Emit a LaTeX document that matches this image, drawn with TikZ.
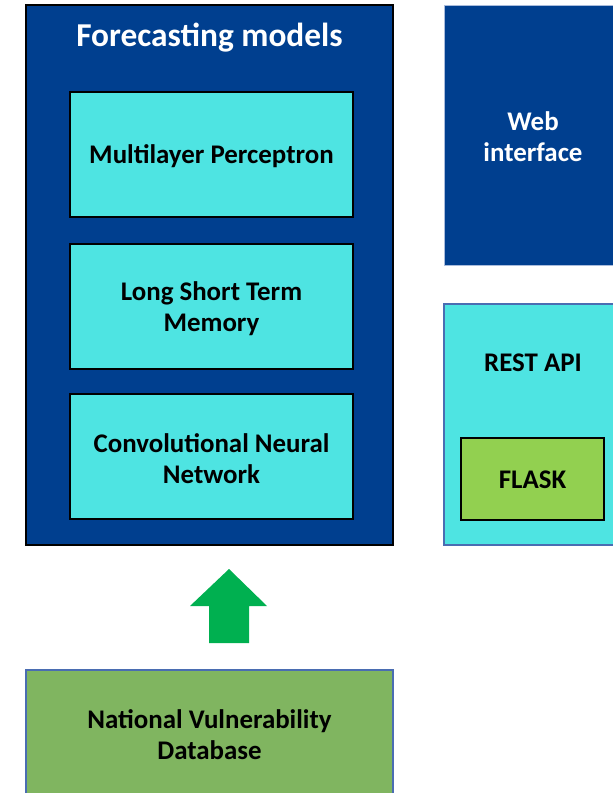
\documentclass[tikz,border=0pt]{standalone}
\usepackage{fontspec}
\setmainfont{Carlito}
\definecolor{navy}{HTML}{003F8F}
\definecolor{aqua}{HTML}{4EE4E2}
\definecolor{leaf}{HTML}{92D050}
\definecolor{moss}{HTML}{80B560}
\definecolor{edgeblue}{HTML}{4A6DB2}
\definecolor{paleedge}{HTML}{A9BCDC}
\definecolor{arrowgreen}{HTML}{00B050}
\tikzset{
  panel/.style={rectangle, anchor=north west, inner sep=0pt, outer sep=0pt},
  modelbox/.style={panel, fill=aqua, draw=black, line width=1.6pt,
    minimum width=283bp, minimum height=125bp},
  label/.style={inner sep=0pt, align=center, font=\bfseries\fontsize{27}{31}\selectfont},
}
\begin{document}
\begin{tikzpicture}[x=1bp,y=-1bp]
\useasboundingbox (0,0) rectangle (613,793);
% forecasting models container
\node[panel, fill=navy, draw=black, line width=2pt,
  minimum width=367bp, minimum height=540bp] (fm) at (26,5) {};
\node[label, text=white, font=\bfseries\fontsize{33.5}{38}\selectfont] (fmt) at (209.5,38) {Forecasting models};
\node[modelbox] (mlp) at (70,92) {};
\node[label] (mlpt) at (211.5,156) {Multilayer Perceptron};
\node[modelbox] (lstm) at (70,244) {};
\node[label] (lstmt) at (211.5,309) {Long Short Term\\Memory};
\node[modelbox] (cnn) at (70,394) {};
\node[label] (cnnt) at (211.5,459) {Convolutional Neural\\Network};
% web interface
\node[panel, fill=navy, draw=paleedge, line width=1pt,
  minimum width=180bp, minimum height=260bp] (web) at (444,5) {};
\node[label, text=white] (webt) at (533,137) {Web\\interface};
% REST API with Flask
\node[panel, fill=aqua, draw=edgeblue, line width=1.5pt,
  minimum width=180bp, minimum height=241bp] (api) at (444,304) {};
\node[label] (apit) at (533,363) {REST API};
\node[panel, fill=leaf, draw=black, line width=1.6pt,
  minimum width=143bp, minimum height=82bp] (flask) at (461,438) {};
\node[label] (flaskt) at ([yshift=-1bp]flask.center) {FLASK};
% data source
\node[panel, fill=moss, draw=edgeblue, line width=1.5pt,
  minimum width=367bp, minimum height=135bp] (nvd) at (26,670) {};
\node[label] (nvdt) at (209.5,735) {National Vulnerability\\Database};
% block arrow from the database up to the models
\fill[arrowgreen] (209,643) -- (209,606) -- (190,606) -- (229,569)
  -- (267,606) -- (249,606) -- (249,643) -- cycle;
\end{tikzpicture}
\end{document}
